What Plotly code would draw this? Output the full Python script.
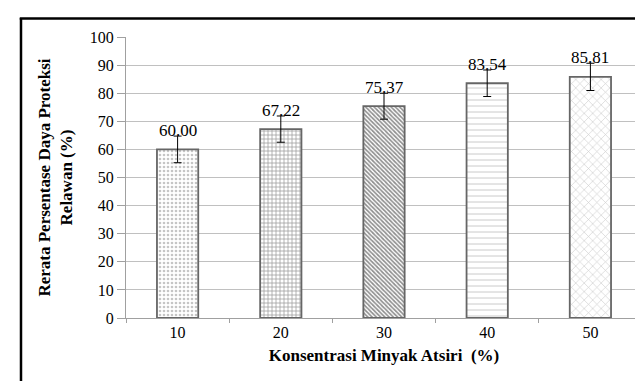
import plotly.graph_objects as go

categories = ["10", "20", "30", "40", "50"]
values = [60.00, 67.22, 75.37, 83.54, 85.81]
errors = [4.74, 4.67, 4.62, 4.72, 4.85]
labels = ["60.00", "67.22", "75.37", "83.54", "85.81"]
y_ticks = [0, 10, 20, 30, 40, 50, 60, 70, 80, 90, 100]

pattern_shapes = [".", "+", "\\", "-", "x"]
pattern_fg = ["#8c8c8c", "#3c3c3c", "#1e1e1e", "#8a8a8a", "#9a9a9a"]
pattern_size = [4, 4, 3, 6, 6]
pattern_solidity = [0.35, 0.35, 0.55, 0.15, 0.2]

FONT = "Liberation Serif"

fig = go.Figure()
fig.add_trace(go.Bar(
    x=categories,
    y=values,
    width=0.4,
    marker=dict(
        color="white",
        line=dict(color="#666666", width=1.8),
        pattern=dict(
            shape=pattern_shapes,
            fgcolor=pattern_fg,
            bgcolor="white",
            size=pattern_size,
            solidity=pattern_solidity,
            fillmode="overlay",
        ),
    ),
    error_y=dict(type="data", array=errors, visible=True, color="black",
                 thickness=1, width=4),
    showlegend=False,
    hoverinfo="skip",
))

for i, (v, e, t) in enumerate(zip(values, errors, labels)):
    fig.add_annotation(x=i, y=v + e, text=t, showarrow=False,
                       yanchor="bottom", xanchor="center", yshift=-6,
                       font=dict(family=FONT, size=17, color="black"))

# outer frame (left and top edges visible)
fig.add_shape(type="line", xref="paper", yref="paper",
              x0=-0.2035, x1=-0.2035, y0=1.0675, y1=-0.4,
              line=dict(color="black", width=2.5))
fig.add_shape(type="line", xref="paper", yref="paper",
              x0=-0.2059, x1=1.1, y0=1.0657, y1=1.0657,
              line=dict(color="black", width=2.5))

fig.update_layout(
    width=643, height=381,
    margin=dict(l=118, r=9, t=28.5, b=71),
    paper_bgcolor="white", plot_bgcolor="white",
    font=dict(family=FONT, color="black"),
    xaxis=dict(
        type="category",
        range=[-0.5, 4.5],
        showline=True, linecolor="#a0a0a0", linewidth=1,
        ticks="outside", tickson="boundaries", ticklen=4,
        tickcolor="#a0a0a0",
        tickfont=dict(family=FONT, size=16, color="black"),
        showgrid=False,
        title=dict(text="<b>Konsentrasi Minyak Atsiri  (%)</b>",
                   font=dict(family=FONT, size=17, color="black"),
                   standoff=8),
    ),
    yaxis=dict(
        range=[0, 100],
        tickvals=y_ticks,
        showline=True, linecolor="#a0a0a0", linewidth=1,
        ticks="outside", ticklen=8, tickcolor="#a0a0a0",
        tickfont=dict(family=FONT, size=16, color="black"),
        showgrid=True, gridcolor="#c0c0c0", gridwidth=1,
        zeroline=False,
        title=dict(text="<b>Rerata Persentase Daya Proteksi<br>Relawan (%)</b>",
                   font=dict(family=FONT, size=17, color="black"),
                   standoff=12),
    ),
)

fig.write_html("out.html")
